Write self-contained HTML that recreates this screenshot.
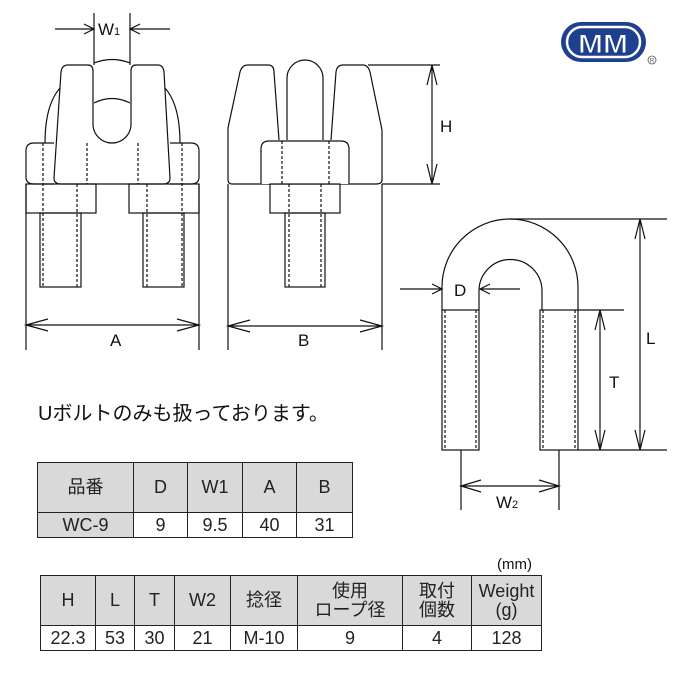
<!DOCTYPE html>
<html><head><meta charset="utf-8"><style>
body{margin:0;background:#fff;width:680px;height:680px;overflow:hidden;font-family:"Liberation Sans","Noto Sans CJK JP",sans-serif}
svg{position:absolute;left:0;top:0}
table{position:absolute;border-collapse:collapse;font-size:18px;color:#222}
td{border:1.5px solid #222;text-align:center;padding:0;line-height:19px}
.h td{background:#d9d9d9}
</style></head><body>
<svg width="680" height="680" viewBox="0 0 680 680" fill="none" stroke="#111" stroke-width="1.2">
<!-- left clip -->
<path d="M60 88 Q45 105 45 143 M165 88 Q180 105 180 143"/>
<path d="M94 63 Q112 56 130 63 M94 103 Q112 94 130 103"/>
<path d="M54 143 H34 Q26 143 26 151 V177 Q26 184 34 184 H54 M170 143 H191 Q199 143 199 151 V177 Q199 184 191 184 H170"/>
<path d="M68 65 H88 Q93 65 93 71 V124 A18 18 0 0 0 131 124 V71 Q131 65 136 65 H158 Q163 65 164 72 L170 178 Q170 184 163 184 H61 Q54 184 54 178 L61 72 Q62 65 68 65Z" fill="#fff"/>
<rect x="26" y="184" width="70" height="29"/><rect x="129" y="184" width="70" height="29"/>
<rect x="40" y="213" width="41" height="74"/><rect x="143" y="213" width="41" height="74"/>
<path stroke-dasharray="3,2" d="M43 143V287M77 184V287M147 184V287M182 143V287M87 143V184M138 143V184"/>
<path d="M94 13V65M130 13V65M55 29H94M130 29H170M84 24L94 29L84 34M140 24L130 29L140 34"/>
<path d="M26 184V350M199 184V350M26 325H199M48 319L26 325L48 331M177 319L199 325L177 331"/>
<!-- middle clip -->
<path d="M279 140 L274 72 Q274 65 268 65 H248 Q242 65 240 72 L228 128 V180 Q228 184 232 184 H376 Q382 184 382 180 V130 L370 72 Q368 65 363 65 H343 Q337 65 336 72 L331 140"/>
<path d="M287 140 V78 A18 18 0 0 1 323 78 V140"/>
<path d="M261 184 V149 Q261 141 269 141 H341 Q349 141 349 149 V184" fill="#fff"/>
<rect x="270" y="184" width="70" height="29"/><rect x="285" y="213" width="40" height="74"/>
<path stroke-dasharray="3,2" d="M282 141V184M329 141V184M289 184V287M321 184V287"/>
<path d="M368 65H440M382 184H440M432 65V184M427 85L432 65L437 85M427 164L432 184L437 164"/>
<path d="M228 184V350M382 184V350M228 326H382M250 320L228 326L250 332M360 320L382 326L360 332"/>
<!-- U bolt -->
<path d="M442 310 V287 A68 68 0 0 1 578 287 V310 M479 310 V291 A31.5 31.5 0 0 1 542 291 V310"/>
<rect x="442" y="310" width="37" height="140"/><rect x="540" y="310" width="38" height="140"/>
<path stroke-dasharray="3,2" d="M445 310V450M476 310V450M543 310V450M575 310V450"/>
<path d="M510 219H667M578 310H624M578 450H667M640 219V450M635 239L640 219L645 239M635 430L640 450L645 430M600 310V450M595 330L600 310L605 330M595 430L600 450L605 430"/>
<path d="M400 289H442M480 289H520M432 284L442 289L432 294M490 284L480 289L490 294"/>
<path d="M461 450V510M559 450V510M461 486H559M481 480L461 486L481 492M539 480L559 486L539 492"/>
<g fill="#111" stroke="none" font-family="Liberation Sans, sans-serif" font-size="17">
<text x="98" y="35">W<tspan font-size="11">1</tspan></text>
<text x="110" y="346">A</text><text x="298" y="346">B</text><text x="440" y="132">H</text>
<text x="454" y="296">D</text><text x="646" y="344">L</text><text x="609" y="388">T</text>
<text x="496" y="508">W<tspan font-size="11">2</tspan></text>
<text x="38" y="420" font-size="20" font-family="Liberation Sans, Noto Sans CJK JP, sans-serif">Uボルトのみも扱っております。</text>
<text x="497" y="569" font-size="15" font-family="Liberation Sans, Noto Sans CJK JP, sans-serif">(mm)</text>
</g>
<!-- logo -->
<rect x="561" y="22" width="85" height="40" rx="20" fill="#1f3f8f" stroke="none"/>
<rect x="567" y="27" width="73" height="30" rx="15" fill="none" stroke="#fff" stroke-width="2.5"/>
<text x="603" y="53" text-anchor="middle" font-family="Liberation Sans, sans-serif" font-weight="bold" font-size="27" fill="#fff" stroke="#1f3f8f" stroke-width="1" textLength="50" lengthAdjust="spacingAndGlyphs">MM</text>
<circle cx="652" cy="60" r="4" stroke="#555" stroke-width="0.8"/>
<text x="652" y="62.5" text-anchor="middle" font-size="6" fill="#555" stroke="none" font-family="Liberation Sans, sans-serif">R</text>
</svg>
<table style="left:37px;top:462px;width:316px">
<tr class="h" style="height:50px"><td style="width:95px">品番</td><td style="width:53px">D</td><td style="width:54px">W1</td><td style="width:53px">A</td><td>B</td></tr>
<tr style="height:25px"><td style="background:#d9d9d9">WC-9</td><td>9</td><td>9.5</td><td>40</td><td>31</td></tr>
</table>
<table style="left:40px;top:575px;width:502px">
<tr class="h" style="height:50px"><td style="width:54px">H</td><td style="width:38px">L</td><td style="width:39px">T</td><td style="width:55px">W2</td><td style="width:66px">捻径</td><td style="width:104px">使用<br>ロープ径</td><td style="width:68px">取付<br>個数</td><td>Weight<br>(g)</td></tr>
<tr style="height:25px"><td>22.3</td><td>53</td><td>30</td><td>21</td><td>M-10</td><td>9</td><td>4</td><td>128</td></tr>
</table>
</body></html>
